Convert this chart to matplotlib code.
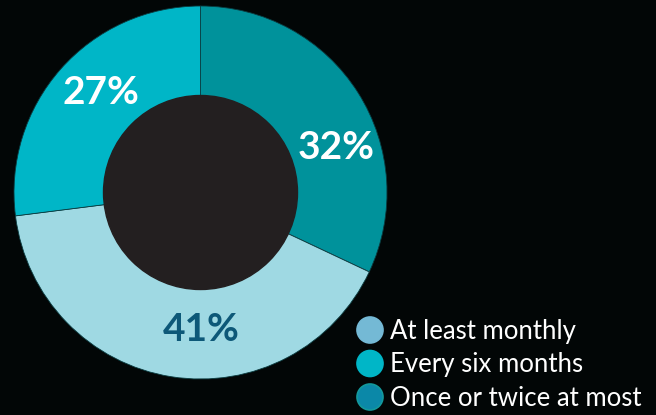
import matplotlib.pyplot as plt
from matplotlib.patches import Circle

# share of respondents by frequency (clockwise from the top)
slice_names = ["Once or twice at most", "At least monthly", "Every six months"]
slice_values = [32, 41, 27]
slice_colors = ["#00929b", "#9fd9e3", "#00b6c7"]
label_colors = ["white", "#0d5878", "white"]

# legend entries, in the order they are listed
legend_names = ["At least monthly", "Every six months", "Once or twice at most"]
legend_colors = ["#74b9d5", "#00b6c7", "#0b88a8"]
legend_edges = ["#74b9d5", "#00b6c7", "#13999c"]

W, H = 656, 415
bg = "#020606"

fig = plt.figure(figsize=(W / 100, H / 100), dpi=100, facecolor=bg)
ax = fig.add_axes([0, 0, 1, 1])
ax.set_xlim(0, W)
ax.set_ylim(0, H)
ax.set_aspect("equal")
ax.axis("off")
ax.set_facecolor(bg)

cx, cy = 200.5, H - 192.5
r_out, r_in = 186.5, 97

ax.pie(slice_values, colors=slice_colors, startangle=90, counterclock=False,
       center=(cx, cy), radius=r_out, frame=True,
       wedgeprops=dict(linewidth=0.6, edgecolor="#0a3c40"))
ax.set_xlim(0, W)
ax.set_ylim(0, H)
ax.axis("off")
ax.add_patch(Circle((cx, cy), r_in, color="#231f20", zorder=3))

# label offsets from the centre, in pixels (x right, y up)
label_offsets = [(136, 45), (1, -137), (-100, 100)]
for v, (dx, dy), c in zip(slice_values, label_offsets, label_colors):
    ax.text(cx + dx, cy + dy, f"{v}%", color=c, fontsize=28, fontweight="bold",
            family="Lato", ha="center", va="center", zorder=4)

# legend
for i, (name, fc, ec) in enumerate(zip(legend_names, legend_colors, legend_edges)):
    y = H - (330 + i * 33.5)
    ax.add_patch(Circle((370, y), 13, facecolor=fc, edgecolor=ec, linewidth=1.2, zorder=3))
    ax.text(390, y - 1, name, color="white", fontsize=18.5, family="Lato",
            ha="left", va="center", zorder=4)

fig.savefig("out.png", dpi=100, facecolor=bg)
